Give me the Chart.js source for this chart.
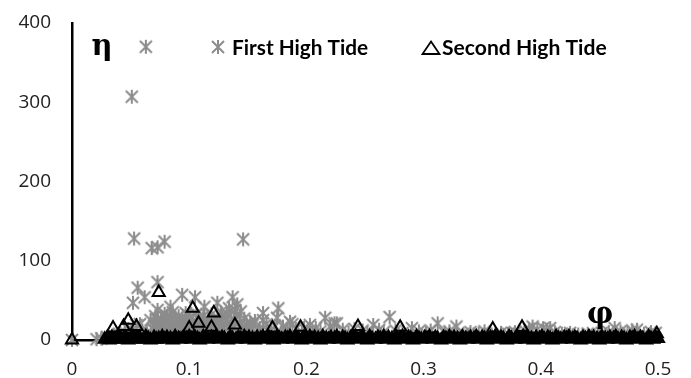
<!DOCTYPE html>
<html>
<head>
<meta charset="utf-8">
<script src="https://cdn.jsdelivr.net/npm/chart.js@4/dist/chart.umd.min.js"></script>
<style>
  html, body { margin: 0; padding: 0; background: #fff; }
  .chart-box { width: 691px; height: 378px; position: relative; }
</style>
</head>
<body>
<div class="chart-box"><canvas id="tideChart"></canvas></div>
<script>
  // tick labels
  const xTickLabels = ['0', '0.1', '0.2', '0.3', '0.4', '0.5'];
  const yTickLabels = ['0', '100', '200', '300', '400'];
  const seriesNames = ['First High Tide', 'Second High Tide'];

  // First High Tide: [phi, eta]
  const firstHighTide = [
    [0, 0], [0.021, 1], [0.025, 2], [0.030, 4], [0.035, 6], [0.040, 8], [0.045, 10], [0.048, 14],
    [0.063, 370], [0.051, 307], [0.053, 128], [0.068, 116], [0.073, 117], [0.079, 124], [0.146, 127],
    [0.073, 73], [0.056, 66], [0.062, 54], [0.052, 47], [0.094, 57], [0.105, 54], [0.073, 38],
    [0.084, 42], [0.113, 42], [0.137, 54], [0.124, 47], [0.139, 38], [0.163, 34], [0.176, 40],
    [0.175, 28], [0.186, 23], [0.154, 19], [0.203, 19], [0.216, 28], [0.224, 21], [0.271, 29],
    [0.257, 19], [0.312, 21], [0.328, 17], [0.226, 21], [0.290, 15], [0.393, 17], [0.402, 15],
    [0.408, 15], [0.463, 15], [0.482, 13], [0.055, 19], [0.058, 20], [0.060, 12], [0.064, 8],
    [0.067, 25], [0.069, 14], [0.071, 30], [0.072, 20], [0.074, 10], [0.076, 27], [0.077, 16],
    [0.079, 33], [0.080, 22], [0.082, 12], [0.083, 28], [0.085, 18], [0.086, 35], [0.088, 24],
    [0.089, 13], [0.091, 30], [0.092, 20], [0.094, 27], [0.095, 11], [0.097, 34], [0.098, 22],
    [0.100, 16], [0.101, 29], [0.103, 24], [0.104, 12], [0.106, 33], [0.107, 19], [0.109, 26],
    [0.110, 14], [0.112, 30], [0.113, 21], [0.115, 11], [0.116, 27], [0.118, 18], [0.119, 32],
    [0.121, 23], [0.122, 13], [0.124, 28], [0.125, 19], [0.127, 35], [0.128, 24], [0.130, 15],
    [0.131, 29], [0.133, 21], [0.134, 40], [0.136, 26], [0.138, 17], [0.140, 31], [0.141, 45],
    [0.143, 22], [0.145, 14], [0.147, 27], [0.149, 19], [0.151, 12], [0.156, 24], [0.160, 15],
    [0.068, 8], [0.070, 18], [0.073, 26], [0.075, 13], [0.078, 21], [0.081, 30], [0.083, 9],
    [0.084, 17], [0.087, 26], [0.090, 8], [0.093, 15], [0.096, 24], [0.099, 31], [0.102, 9],
    [0.105, 18], [0.108, 28], [0.111, 8], [0.114, 16], [0.117, 23], [0.120, 9], [0.123, 17],
    [0.126, 25], [0.129, 10], [0.132, 33], [0.135, 13], [0.138, 24], [0.142, 9], [0.144, 36],
    [0.148, 11], [0.152, 22], [0.158, 9], [0.163, 25], [0.168, 10], [0.173, 18], [0.178, 9],
    [0.184, 13], [0.188, 20], [0.198, 15], [0.205, 9],
    [0.166, 20], [0.170, 12], [0.180, 17], [0.191, 14], [0.196, 10], [0.208, 15], [0.212, 11],
    [0.220, 17], [0.231, 13], [0.236, 9], [0.241, 14], [0.248, 12], [0.252, 9], [0.262, 13],
    [0.266, 10], [0.276, 12], [0.282, 9], [0.296, 11], [0.302, 8], [0.306, 12], [0.318, 9],
    [0.322, 11], [0.334, 8], [0.340, 10], [0.347, 8], [0.352, 11], [0.358, 7], [0.366, 9],
    [0.372, 8], [0.378, 10], [0.386, 12], [0.390, 14], [0.397, 13], [0.405, 12], [0.412, 10],
    [0.418, 8], [0.425, 9], [0.432, 7], [0.440, 8], [0.446, 6], [0.452, 9], [0.458, 10],
    [0.468, 11], [0.474, 9], [0.478, 12], [0.488, 8], [0.494, 10], [0.498, 9]
  ];

  // Second High Tide: visible outliers, then the dense run along the axis
  const secondHighTide = [
    [0, 0], [0.074, 60], [0.103, 40], [0.121, 34], [0.048, 25], [0.035, 15], [0.044, 17],
    [0.055, 17], [0.108, 21], [0.100, 15], [0.139, 19], [0.119, 16], [0.171, 15], [0.195, 16],
    [0.244, 17], [0.280, 16], [0.359, 14], [0.384, 16], [0.499, 8],
    [0.028, 1], [0.030, 2], [0.032, 0], [0.034, 3], [0.036, 1], [0.038, 2], [0.040, 4], [0.042, 1],
    [0.044, 2], [0.046, 3], [0.048, 0], [0.050, 2], [0.052, 4], [0.054, 1], [0.056, 3], [0.058, 2],
    [0.061, 1], [0.063, 4], [0.065, 2], [0.067, 0], [0.070, 3], [0.072, 1], [0.074, 2], [0.077, 4],
    [0.079, 1], [0.081, 3], [0.084, 2], [0.086, 0], [0.088, 4], [0.091, 2], [0.093, 1], [0.095, 3],
    [0.098, 2], [0.100, 4], [0.102, 1], [0.105, 3], [0.107, 2], [0.109, 0], [0.112, 4], [0.114, 2],
    [0.116, 1], [0.119, 3], [0.121, 2], [0.123, 4], [0.126, 1], [0.128, 3], [0.130, 2], [0.133, 0],
    [0.135, 4], [0.137, 2], [0.140, 1], [0.142, 3], [0.144, 2], [0.147, 4], [0.149, 1], [0.151, 3],
    [0.154, 2], [0.156, 0], [0.158, 3], [0.161, 2], [0.163, 4], [0.165, 1], [0.168, 3], [0.170, 2],
    [0.172, 0], [0.175, 4], [0.177, 2], [0.179, 1], [0.182, 3], [0.184, 2], [0.186, 4], [0.189, 1],
    [0.191, 3], [0.193, 2], [0.196, 0], [0.198, 3], [0.200, 2], [0.203, 4], [0.205, 1], [0.207, 3],
    [0.210, 2], [0.212, 0], [0.214, 4], [0.217, 2], [0.219, 1], [0.221, 3], [0.224, 2], [0.226, 4],
    [0.228, 1], [0.231, 3], [0.233, 2], [0.235, 0], [0.238, 3], [0.240, 2], [0.242, 4], [0.245, 1],
    [0.247, 3], [0.249, 2], [0.252, 0], [0.254, 4], [0.256, 2], [0.259, 1], [0.261, 3], [0.263, 2],
    [0.266, 4], [0.268, 1], [0.270, 3], [0.273, 2], [0.275, 0], [0.277, 3], [0.280, 2], [0.282, 4],
    [0.284, 1], [0.287, 3], [0.289, 2], [0.291, 0], [0.294, 4], [0.296, 2], [0.298, 1], [0.301, 3],
    [0.303, 2], [0.305, 4], [0.308, 1], [0.310, 3], [0.312, 2], [0.315, 0], [0.317, 3], [0.319, 2],
    [0.322, 4], [0.324, 1], [0.326, 3], [0.329, 2], [0.331, 0], [0.333, 4], [0.336, 2], [0.338, 1],
    [0.340, 3], [0.343, 2], [0.345, 4], [0.347, 1], [0.350, 3], [0.352, 2], [0.354, 0], [0.357, 3],
    [0.359, 2], [0.361, 4], [0.364, 1], [0.366, 3], [0.368, 2], [0.371, 0], [0.373, 4], [0.375, 2],
    [0.378, 1], [0.380, 3], [0.382, 2], [0.385, 4], [0.387, 1], [0.389, 3], [0.392, 2], [0.394, 0],
    [0.396, 3], [0.399, 2], [0.401, 4], [0.403, 1], [0.406, 3], [0.408, 2], [0.410, 0], [0.413, 4],
    [0.415, 2], [0.417, 1], [0.420, 3], [0.422, 2], [0.424, 4], [0.427, 1], [0.429, 3], [0.431, 2],
    [0.434, 0], [0.436, 3], [0.438, 2], [0.441, 4], [0.443, 1], [0.445, 3], [0.448, 2], [0.450, 0],
    [0.452, 4], [0.455, 2], [0.457, 1], [0.459, 3], [0.462, 2], [0.464, 4], [0.466, 1], [0.469, 3],
    [0.471, 2], [0.473, 0], [0.476, 3], [0.478, 2], [0.480, 4], [0.483, 1], [0.485, 3], [0.487, 2],
    [0.490, 0], [0.492, 4], [0.494, 2], [0.496, 1], [0.498, 3], [0.500, 2]
  ];

  const GRAY = '#8c8c8c';
  const TICK_COLOR = '#222222';

  // asterisk marker (vertical bar + X), like the spreadsheet "*" marker
  function makeAsterisk(size, color) {
    const c = document.createElement('canvas');
    c.width = size;
    c.height = size;
    const g = c.getContext('2d');
    const m = size / 2;
    const r = size / 2 - 1;
    const d = r * 0.86;
    g.strokeStyle = color;
    g.lineWidth = 2;
    g.beginPath();
    g.moveTo(m, m - r); g.lineTo(m, m + r);
    g.moveTo(m - d, m - d); g.lineTo(m + d, m + d);
    g.moveTo(m + d, m - d); g.lineTo(m - d, m + d);
    g.stroke();
    return c;
  }
  const asterisk = makeAsterisk(16, GRAY);

  const toPoints = (rows) => rows.map(([x, y]) => ({ x, y }));

  function fitFont(ctx, text, targetWidth, family) {
    ctx.font = 'bold 20px ' + family;
    const size = 20 * targetWidth / ctx.measureText(text).width;
    return 'bold ' + size.toFixed(1) + 'px ' + family;
  }

  const overlayPlugin = {
    id: 'overlay',
    afterDraw(chart) {
      const ctx = chart.ctx;
      ctx.save();
      // legend, placed inside the plot area
      ctx.drawImage(asterisk, 218 - 8, 47 - 8);
      ctx.fillStyle = '#000';
      ctx.textBaseline = 'middle';
      ctx.textAlign = 'left';
      ctx.font = fitFont(ctx, seriesNames[0], 136, 'Lato, "Open Sans", sans-serif');
      ctx.fillText(seriesNames[0], 232, 48);
      ctx.strokeStyle = '#000';
      ctx.lineWidth = 1.8;
      ctx.beginPath();
      ctx.moveTo(431, 41.5);
      ctx.lineTo(439.5, 54);
      ctx.lineTo(422.5, 54);
      ctx.closePath();
      ctx.stroke();
      ctx.font = fitFont(ctx, seriesNames[1], 165, 'Lato, "Open Sans", sans-serif');
      ctx.fillText(seriesNames[1], 442, 48);
      // axis symbols
      ctx.textAlign = 'center';
      ctx.textBaseline = 'alphabetic';
      ctx.font = 'bold 29px "DejaVu Serif", serif';
      ctx.fillText('η', 102, 55);
      ctx.fillText('φ', 600, 323);
      ctx.restore();
    }
  };

  new Chart(document.getElementById('tideChart'), {
    type: 'scatter',
    data: {
      datasets: [
        {
          label: seriesNames[0],
          data: toPoints(firstHighTide),
          pointStyle: asterisk,
          pointRadius: 7,
          borderColor: GRAY,
          backgroundColor: GRAY,
          clip: false,
          order: 2
        },
        {
          label: seriesNames[1],
          data: toPoints(secondHighTide),
          pointStyle: 'triangle',
          pointRadius: 7,
          borderWidth: 2,
          borderColor: '#000',
          // the run of markers along the axis overlaps into a solid black band
          backgroundColor: (c) => (c.raw && c.raw.y <= 4 && c.raw.x > 0 ? '#000' : 'rgba(0,0,0,0)'),
          clip: false,
          order: 1
        }
      ]
    },
    options: {
      responsive: true,
      maintainAspectRatio: false,
      animation: false,
      layout: { autoPadding: false, padding: { top: 23, right: 33, left: 0, bottom: 0 } },
      plugins: {
        legend: { display: false },
        tooltip: { enabled: false }
      },
      scales: {
        x: {
          type: 'linear',
          min: 0,
          max: 0.5,
          afterFit: (scale) => { scale.height = 38; },
          afterBuildTicks: (scale) => {
            scale.ticks = xTickLabels.map((t) => ({ value: Number(t) }));
          },
          ticks: {
            callback: (v, i) => xTickLabels[i],
            color: TICK_COLOR,
            font: { family: '"Open Sans", sans-serif', size: 19 },
            padding: 0,
            maxRotation: 0
          },
          // gap between axis and labels comes from the (hidden) tick length
          grid: { display: false, drawTicks: true, tickLength: 18 },
          border: { display: true, color: '#000', width: 2.5 }
        },
        y: {
          min: 0,
          max: 400,
          afterFit: (scale) => { scale.width = 72; },
          afterBuildTicks: (scale) => {
            scale.ticks = yTickLabels.map((t) => ({ value: Number(t) }));
          },
          ticks: {
            callback: (v, i) => yTickLabels[i],
            color: TICK_COLOR,
            font: { family: '"Open Sans", sans-serif', size: 19 },
            padding: 0
          },
          grid: { display: false, drawTicks: true, tickLength: 21 },
          border: { display: true, color: '#000', width: 2.5 }
        }
      }
    },
    plugins: [overlayPlugin]
  });
</script>
</body>
</html>
